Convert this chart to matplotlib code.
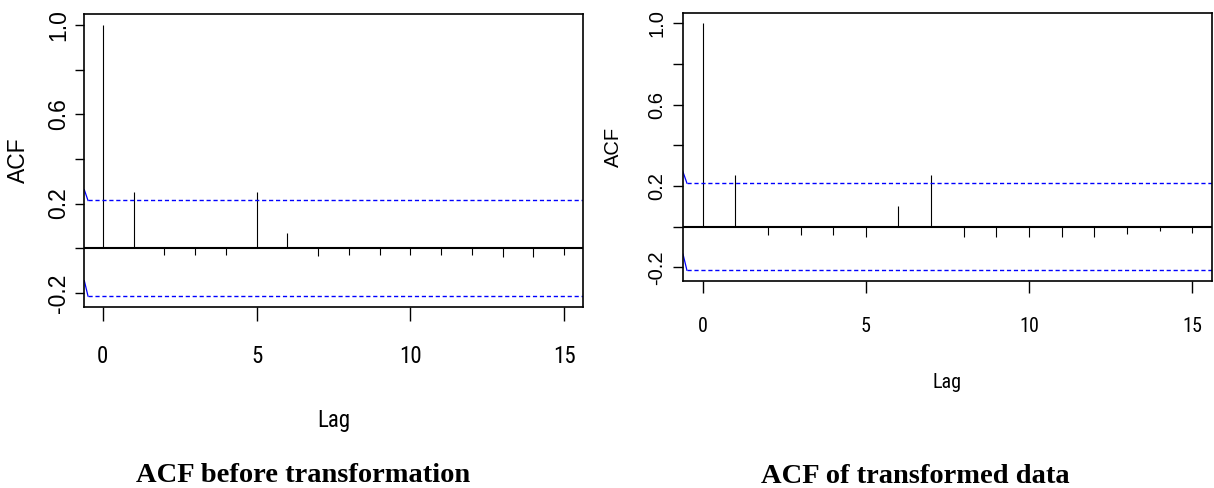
import matplotlib
matplotlib.use('Agg')
import matplotlib.pyplot as plt
from matplotlib import font_manager as fm

# ---------------- data ----------------
lags = list(range(16))
acf_before = [1.0, 0.254, -0.030, -0.030, -0.030, 0.254, 0.067, -0.033,
              -0.030, -0.030, -0.032, -0.030, -0.030, -0.040, -0.037, -0.030]
acf_after = [1.0, 0.254, -0.041, -0.041, -0.041, -0.051, 0.103, 0.254,
             -0.051, -0.051, -0.051, -0.051, -0.051, -0.034, -0.021, -0.029]
conf_lag = [-0.6, -0.48, 15.6]
conf_upper_before = [0.262, 0.214, 0.214]
conf_lower_before = [-0.145, -0.214, -0.214]
conf_upper_after = [0.269, 0.214, 0.214]
conf_lower_after = [-0.135, -0.214, -0.214]
xtick_vals = [0, 5, 10, 15]
xtick_labels = ['0', '5', '10', '15']
ytick_vals = [-0.2, 0.0, 0.2, 0.4, 0.6, 0.8, 1.0]
ytick_labels = ['-0.2', '', '0.2', '', '0.6', '', '1.0']
titles = ['ACF before transformation', 'ACF of transformed data']
xlab = 'Lag'
ylab = 'ACF'

# ---------------- fonts ----------------
avail = {f.name for f in fm.fontManager.ttflist}
narrow = None
for cand in ['Liberation Sans Narrow', 'Roboto Condensed', 'Archivo Narrow',
             'Open Sans Condensed', 'Noto Sans Condensed']:
    if cand in avail:
        narrow = cand
        break
sans = 'Liberation Sans'
narrow_fam = narrow if narrow else sans
serif = 'Liberation Serif'

W, H = 1214, 488
fig = plt.figure(figsize=(W / 100, H / 100), dpi=100)

specs = [
    dict(box=(84.3, 14, 582.5, 307), acf=acf_before, cu=conf_upper_before, cl=conf_lower_before,
         fs=16.5, xlen=10, ylen=6.5, xpad=17.5, ypad=3.6, ylim=(-0.263, 1.049),
         lx=-0.133, ly=-0.3857, title_x=303, title_y=488, title_va='bottom'),
    dict(box=(683, 13.3, 1211.8, 281), acf=acf_after, cu=conf_upper_after, cl=conf_lower_after,
         fs=14.5, xlen=8.7, ylen=7.2, xpad=17.5, ypad=5, ylim=(-0.267, 1.0487),
         lx=-0.1316, ly=-0.381, title_x=915, title_y=483.3, title_va='baseline'),
]

for i, s in enumerate(specs):
    x0, y0, x1, y1 = s['box']
    ax = fig.add_axes([x0 / W, 1 - y1 / H, (x1 - x0) / W, (y1 - y0) / H])
    ax.vlines(lags, 0, s['acf'], color='black', lw=0.8)
    ax.axhline(0, color='black', lw=1.5)
    for c in (s['cu'], s['cl']):
        ax.plot(conf_lag[:2], c[:2], color='blue', lw=0.9)
        ax.plot(conf_lag[1:], c[1:], color='blue', lw=1.0, ls=(0, (3, 2)))
    ax.set_xlim(conf_lag[0], conf_lag[-1])
    ax.set_ylim(*s['ylim'])
    ax.set_xticks(xtick_vals)
    ax.set_xticklabels(xtick_labels, family=narrow_fam, fontsize=s['fs'])
    ax.set_yticks(ytick_vals)
    ax.set_yticklabels(ytick_labels, family=sans, fontsize=s['fs'], rotation=90, va='center')
    ax.tick_params(axis='x', length=s['xlen'], width=1.0, pad=s['xpad'])
    ax.tick_params(axis='y', length=s['ylen'], width=1.0, pad=s['ypad'])
    for sp in ax.spines.values():
        sp.set_linewidth(1.2)
    ax.set_xlabel(xlab, family=narrow_fam, fontsize=s['fs'], va='center')
    ax.xaxis.set_label_coords(0.5, s['ly'])
    ax.set_ylabel(ylab, family=sans, fontsize=s['fs'], va='center')
    ax.yaxis.set_label_coords(s['lx'], 0.5)
    fig.text(s['title_x'] / W, 1 - s['title_y'] / H, titles[i], ha='center', va=s['title_va'],
             family=serif, fontweight='bold', fontsize=20.5)

fig.savefig('out.png', dpi=100)
